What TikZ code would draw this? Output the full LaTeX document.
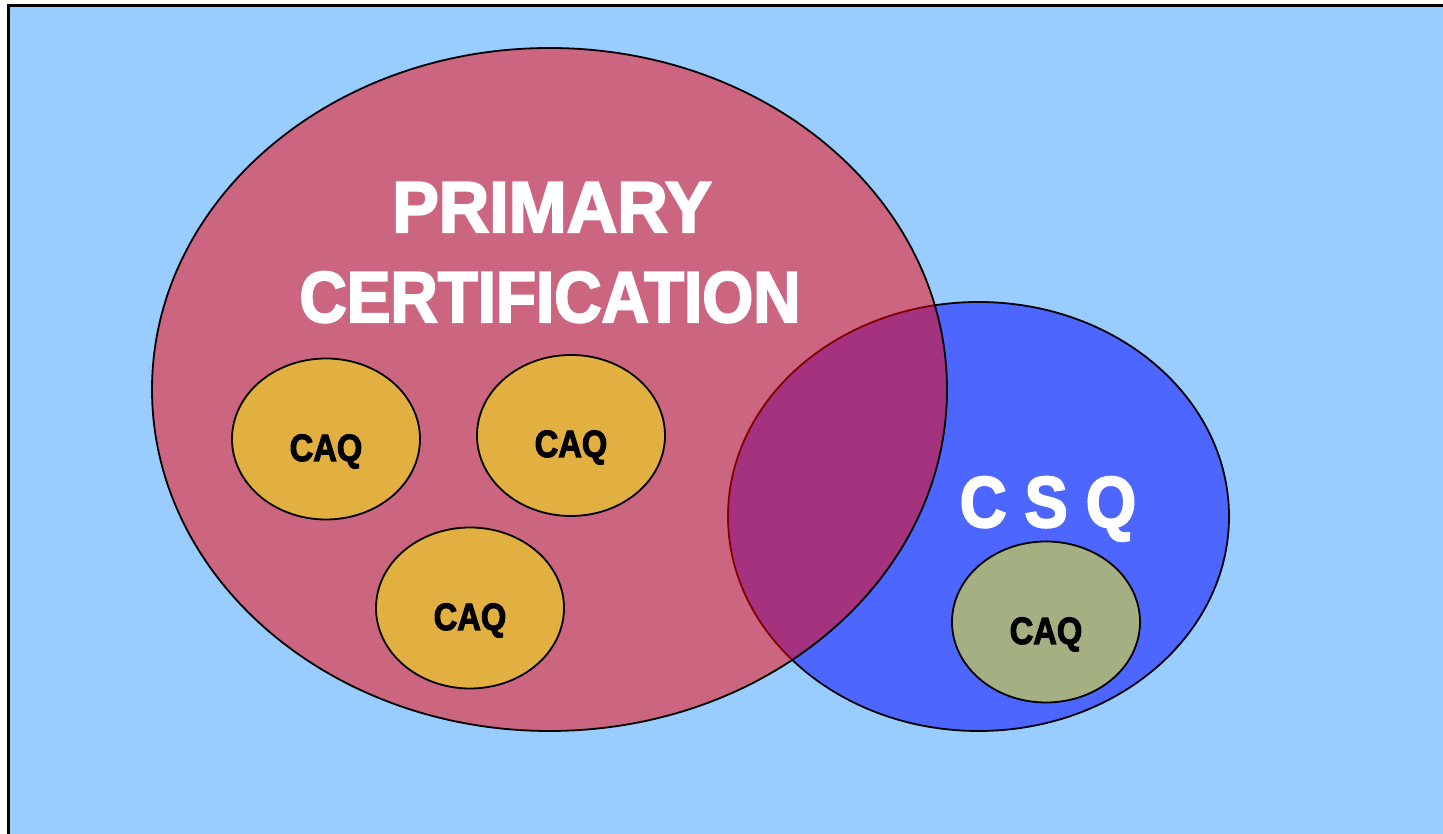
\documentclass[tikz,border=0pt]{standalone}
\usepackage{fontspec}
\newfontfamily\heavy{Liberation Sans}[BoldFeatures={FakeBold=3}]
\usetikzlibrary{shapes.geometric}
\definecolor{bgblue}{HTML}{99CCFF}
\definecolor{csqblue}{HTML}{4C66FF}
\definecolor{caqgold}{HTML}{E2B040}
\definecolor{caqgreen}{HTML}{A5B082}
\tikzset{
  oval/.style={ellipse, draw=black, line width=1.8pt, inner sep=0pt},
  caq/.style={oval, fill=caqgold, minimum width=188pt, minimum height=161pt},
  caqtext/.style={anchor=base, text=black, font=\heavy\bfseries\fontsize{38}{40}\selectfont, xscale=0.86, transform shape},
  bigtext/.style={anchor=base, text=white, font=\heavy\bfseries\fontsize{72}{90}\selectfont, transform shape}
}
\begin{document}
\begin{tikzpicture}[x=1pt, y=1pt]
\useasboundingbox (0,0) rectangle (1443,834);
\clip (0,0) rectangle (1443,834);
\draw[fill=bgblue, line width=3pt] (8,-20) rectangle (1463,828);
% CSQ ellipse
\node[oval, fill=csqblue, minimum width=501pt, minimum height=429pt] (csq) at (978.5,317.5) {};
% Primary ellipse
\node[oval, fill=red, fill opacity=0.5, minimum width=795pt, minimum height=683pt] (primary) at (549.5,444.5) {};
% CAQ ellipses
\node[caq] (caq1) at (326,395) {};
\node[caq] (caq2) at (571,398.5) {};
\node[caq] (caq3) at (470,226) {};
\node[caq, fill=caqgreen] (caq4) at (1046,212) {};
% Texts
\node[bigtext, xscale=0.97] (t1) at (552,602) {PRIMARY};
\node[bigtext, xscale=0.91] (t2) at (550,512) {CERTIFICATION};
\node[bigtext, xscale=0.9] (t3) at (1048,307) {C S Q};
\node[caqtext] (c1) at (326,373) {CAQ};
\node[caqtext] (c2) at (571,377) {CAQ};
\node[caqtext] (c3) at (470,204) {CAQ};
\node[caqtext] (c4) at (1046,190) {CAQ};
\end{tikzpicture}
\end{document}
